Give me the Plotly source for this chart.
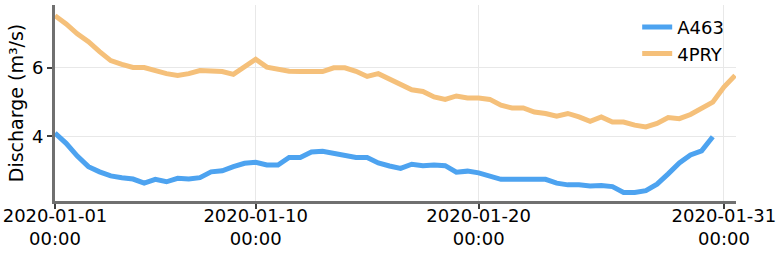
import pandas as pd
import plotly.graph_objects as go

start = "2020-01-01 00:00"
a463 = [4.10, 3.80, 3.43, 3.12, 2.97, 2.85, 2.80, 2.76, 2.64, 2.75,
        2.68, 2.78, 2.76, 2.80, 2.97, 3.00, 3.12, 3.22, 3.25, 3.17,
        3.17, 3.39, 3.39, 3.55, 3.57, 3.51, 3.46, 3.39, 3.39, 3.23,
        3.14, 3.07, 3.19, 3.15, 3.17, 3.15, 2.96, 2.99, 2.94, 2.83,
        2.75, 2.75, 2.75, 2.75, 2.75, 2.64, 2.59, 2.59, 2.56, 2.57,
        2.54, 2.37, 2.37, 2.42, 2.61, 2.91, 3.23, 3.46, 3.58, 3.99]
pry4 = [7.52, 7.28, 6.99, 6.76, 6.47, 6.21, 6.10, 6.01, 6.01, 5.92,
        5.83, 5.78, 5.83, 5.92, 5.89, 5.89, 5.81, 6.04, 6.25, 6.02,
        5.95, 5.90, 5.89, 5.89, 5.89, 6.00, 6.00, 5.90, 5.75, 5.83,
        5.68, 5.55, 5.36, 5.31, 5.15, 5.08, 5.18, 5.12, 5.12, 5.08,
        4.91, 4.83, 4.83, 4.71, 4.67, 4.59, 4.67, 4.57, 4.44, 4.57,
        4.42, 4.42, 4.33, 4.28, 4.38, 4.55, 4.52, 4.64, 4.84, 5.00,
        5.44, 5.78]
t_a463 = pd.date_range(start, periods=len(a463), freq="12h")
t_pry4 = pd.date_range(start, periods=len(pry4), freq="12h")
tick_vals = ["2020-01-01", "2020-01-10", "2020-01-20", "2020-01-31"]
tick_text = [d + "<br>00:00" for d in tick_vals]

fig = go.Figure()
fig.add_trace(go.Scatter(x=t_a463, y=a463, mode="lines", name="A463",
                         line=dict(color="#4da3f0", width=5)))
fig.add_trace(go.Scatter(x=t_pry4, y=pry4, mode="lines", name="4PRY",
                         line=dict(color="#f5c07a", width=5)))

font = "DejaVu Sans, sans-serif"
fig.update_layout(
    width=778, height=254,
    margin=dict(l=55, r=42, t=5, b=53, autoexpand=False),
    paper_bgcolor="white", plot_bgcolor="white",
    font=dict(family=font, size=18, color="black"),
    showlegend=True,
    legend=dict(x=0.99, y=0.98, xanchor="right", yanchor="top",
                bgcolor="rgba(255,255,255,0)", font=dict(size=18)),
)
fig.update_xaxes(
    type="date", range=[t_pry4[0], t_pry4[-1] + pd.Timedelta(hours=1)],
    tickvals=tick_vals, ticktext=tick_text, automargin=False,
    showline=True, linecolor="#707070", linewidth=3,
    ticks="outside", tickcolor="#404040", ticklen=5, tickwidth=1.5,
    ticklabelstandoff=-9,
    showgrid=True, gridcolor="#e8e8e8", gridwidth=1, zeroline=False,
    tickfont=dict(size=18),
)
fig.update_yaxes(
    range=[2.12, 7.83], tickvals=[4, 6], automargin=False,
    showline=True, linecolor="#707070", linewidth=3,
    ticks="outside", tickcolor="#404040", ticklen=5, tickwidth=1.5,
    showgrid=True, gridcolor="#e8e8e8", gridwidth=1, zeroline=False,
    title=dict(text="Discharge (m³/s)", font=dict(size=19), standoff=4),
    tickfont=dict(size=18),
)
fig.write_html("out.html", config={"displayModeBar": False},
               post_script="document.body.style.margin='0px';")
